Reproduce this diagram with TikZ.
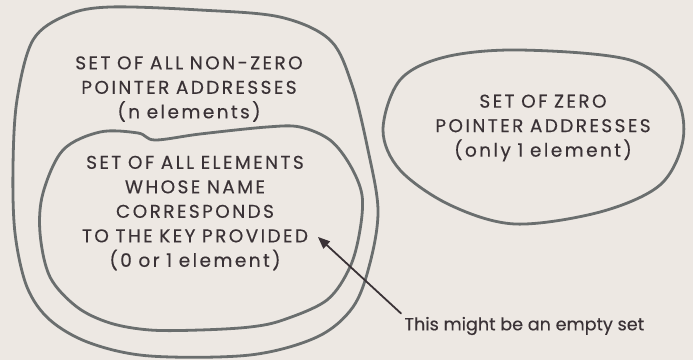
\documentclass[tikz,border=0pt]{standalone}
\usepackage{fontspec}
\setmainfont{Poppins}
\newfontfamily\setfont[LetterSpace=13, WordSpace=0.9, FakeBold=0.3]{Poppins}
\newfontfamily\notefont[FakeBold=0.3]{Poppins}
\usetikzlibrary{arrows, positioning}
\definecolor{paper}{HTML}{EDE8E3}
\definecolor{rim}{HTML}{6A6E6E}
\definecolor{ink}{HTML}{3A3236}
\begin{document}
\begin{tikzpicture}[line cap=round,line join=round,>=triangle 45,x=1pt,y=-1pt]
		\tikzset{blob/.style={draw=rim, line width=2.8pt},
			settext/.style={text=ink, align=center, font=\setfont\fontsize{18.5}{24.5}\selectfont}}
		% Hintergrund
		\fill[paper] (0,0) rectangle (693,360);
		\useasboundingbox (0,0) rectangle (693,360);

		% Menge aller Adressen ungleich null
		\draw[blob] plot[smooth cycle, tension=0.55] coordinates {(110,7) (200,10) (280,17) (330,40) (352,85) (368,150) (378,210) (370,263) (353,307) (317,337) (250,355) (150,356) (90,343) (50,320) (27,287) (15,233) (13,167) (17,100) (33,40) (67,15)};
		% Teilmenge passender Elemente
		\draw[blob] plot[smooth cycle, tension=0.55] coordinates {(100,132) (138,133) (155,140) (200,134) (267,127) (300,127) (330,140) (350,165) (362,195) (360,230) (350,267) (327,300) (283,320) (250,327) (200,330) (150,330) (110,323) (77,307) (50,277) (40,233) (43,193) (63,150)};
		% Menge der Nulladressen
		\draw[blob] plot[smooth cycle, tension=0.55] coordinates {(520,50) (630,60) (675,95) (683,140) (660,185) (600,212) (515,224) (450,205) (400,170) (383,130) (400,80) (445,57)};

		\node[settext] (outerlabel) at (189,89) {SET OF ALL NON-ZERO\\POINTER ADDRESSES\\(n elements)};
		\node[settext] (innerlabel) at (195,213) {SET OF ALL ELEMENTS\\WHOSE NAME\\CORRESPONDS\\TO THE KEY PROVIDED\\(0 or 1 element)};
		\node[settext] (zerolabel) at (543,128) {SET OF ZERO\\POINTER ADDRESSES\\(only 1 element)};

		% Hinweis mit Pfeil
		\node[text=ink, anchor=west, font=\notefont\fontsize{17.6}{20}\selectfont] (note) at (401,326) {This might be an empty set};
		\coordinate (tip) at (318,237);
		\draw[->, draw=ink, line width=1.8pt] (note.north west) -- (tip);
	\end{tikzpicture}
\end{document}
